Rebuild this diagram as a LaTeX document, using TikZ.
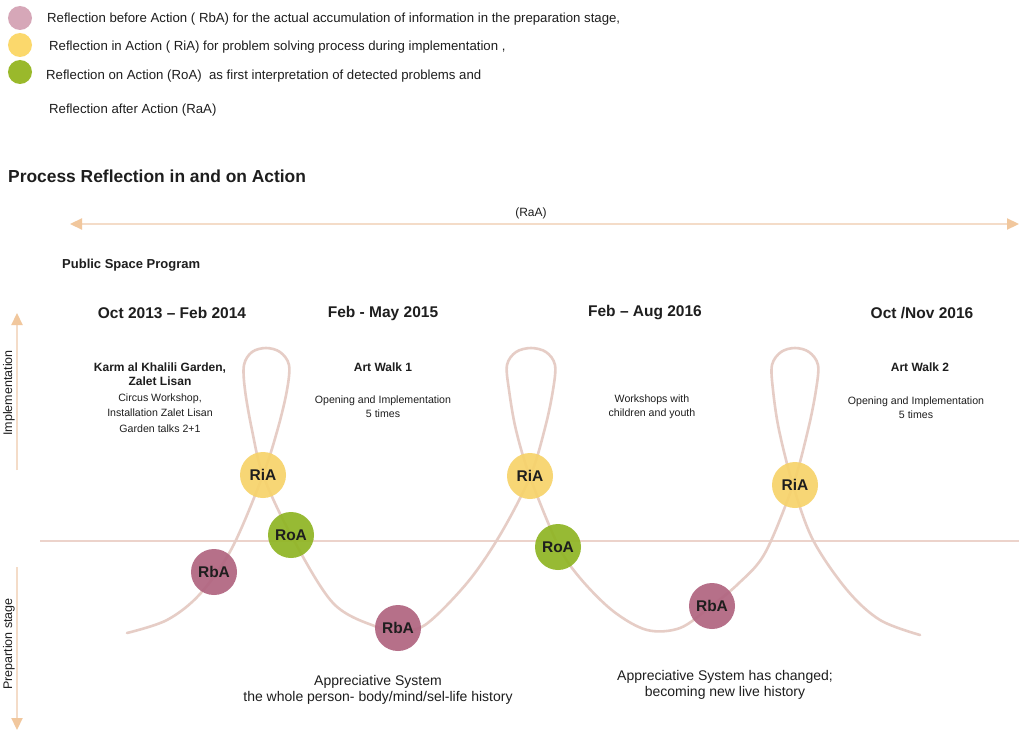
\documentclass[tikz,border=0pt]{standalone}
\usepackage{fontspec}
\setmainfont{Liberation Sans}
\usetikzlibrary{arrows.meta}

% colours
\definecolor{loopline}{HTML}{E6CDC6}
\definecolor{baseline}{HTML}{ECD3CB}
\definecolor{axisline}{HTML}{F4DCC8}
\definecolor{axistip}{HTML}{F1C79D}
\definecolor{rbafill}{HTML}{B06480}
\definecolor{riafill}{HTML}{F7D36A}
\definecolor{roafill}{HTML}{8FB523}
\definecolor{keypink}{HTML}{D6A7B8}
\definecolor{keyyellow}{HTML}{FBD86C}
\definecolor{keygreen}{HTML}{9AB92B}
\definecolor{ink}{HTML}{1E1E1E}

\newcommand{\fs}[2]{\fontsize{#1bp}{#2bp}\selectfont}

\tikzset{
  keydot/.style={circle, minimum size=24bp, inner sep=0pt},
  keytext/.style={anchor=west, inner sep=0pt, text=ink, font=\fs{13.2}{15}},
  refl/.style={circle, minimum size=46bp, inner sep=0pt, fill opacity=0.92, text opacity=1,
               font=\fs{15.5}{16}\bfseries, text=ink},
  rba/.style={refl, fill=rbafill},
  ria/.style={refl, fill=riafill},
  roa/.style={refl, fill=roafill},
  period/.style={font=\fs{15.5}{17}\bfseries, text=ink, inner sep=0pt},
  event/.style={font=\fs{12}{14}\bfseries, text=ink, inner sep=0pt, align=center},
  detail/.style={font=\fs{10.6}{14}, text=ink, inner sep=0pt, align=center},
  summary/.style={font=\fs{14}{16}, text=ink, inner sep=0pt, align=center},
  axis/.style={draw=axisline, line width=2.2bp},
  tip/.style={-{Triangle[length=12bp, width=11bp, color=axistip]}},
}

\begin{document}
\begin{tikzpicture}[x=1bp, y=-1bp]
\useasboundingbox[fill=white] (0,0) rectangle (1019,731);

% legend
\node[keydot, fill=keypink]   (k1) at (20,18) {};
\node[keydot, fill=keyyellow] (k2) at (20,45) {};
\node[keydot, fill=keygreen]  (k3) at (20,72) {};
\node[keytext] (t1) at (47,19)  {Reflection before Action ( RbA) for the actual accumulation of information in the preparation stage,};
\node[keytext] (t2) at (49,47)  {Reflection in Action ( RiA) for problem solving process during implementation ,};
\node[keytext] (t3) at (46,76)  {Reflection on Action (RoA)\ \ as first interpretation of detected problems and};
\node[keytext] (t4) at (49,110) {Reflection after Action (RaA)};

% title
\node[anchor=west, inner sep=0pt, font=\fs{17.4}{19}\bfseries, text=ink] (title) at (8,176) {Process Reflection in and on Action};

% reflection after action arrow
\coordinate (raaL) at (70,224);
\coordinate (raaR) at (1019,224);
\draw[axis, {Triangle[length=12bp, width=11bp, color=axistip]}-{Triangle[length=12bp, width=11bp, color=axistip]}] (raaL) -- (raaR);
\node[font=\fs{12}{13}, text=ink, inner sep=0pt] (raa) at (531,213) {(RaA)};

\node[anchor=west, inner sep=0pt, font=\fs{13}{14}\bfseries, text=ink] (psp) at (62,265) {Public Space Program};

% vertical stage axis
\coordinate (upA) at (17,470);
\coordinate (upB) at (17,313);
\coordinate (dnA) at (17,567);
\coordinate (dnB) at (17,730);
\draw[axis, tip] (upA) -- (upB);
\draw[axis, tip] (dnA) -- (dnB);
\node[rotate=90, font=\fs{12.5}{13}, text=ink, inner sep=0pt] (impl) at (9,393) {Implementation};
\node[rotate=90, font=\fs{12.5}{13}, text=ink, inner sep=0pt] (prep) at (9,644) {Prepartion stage};

% base line between preparation and implementation
\coordinate (bL) at (40,541);
\coordinate (bR) at (1019,541);
\draw[draw=baseline, line width=2.6bp] (bL) -- (bR);

% looping process curve
\draw[draw=loopline, line width=2.6bp, line cap=round] plot[smooth, tension=0.55] coordinates {
  (127,633) (167,620) (200,594) (232,548) (263,475) (278,428) (287,390) (289,365) (280,352)
  (266,348) (252,352) (244,365) (245,390) (252,430) (263,475) (291,535) (333,603) (377,627)
  (398,630) (425,625) (467,583) (500,535) (530,477) (545,428) (553,390) (555,365) (546,352)
  (531,348) (516,352) (507,365) (509,390) (516,430) (530,477) (558,545) (580,578) (613,611)
  (647,630) (680,628) (710,607) (738,584) (765,553) (793,485) (808,430) (816,390) (818,365)
  (809,352) (795,348) (781,352) (772,365) (773,390) (779,430) (793,485) (813,540) (847,590)
  (880,620) (920,635)};

% reflection markers
\node[rba] (rba1) at (214,572) {RbA};
\node[ria] (ria1) at (263,475) {RiA};
\node[roa] (roa1) at (291,535) {RoA};
\node[rba] (rba2) at (398,628) {RbA};
\node[ria] (ria2) at (530,476) {RiA};
\node[roa] (roa2) at (558,547) {RoA};
\node[rba] (rba3) at (712,606) {RbA};
\node[ria] (ria3) at (795,485) {RiA};

% periods
\node[period] (p1) at (172,313) {Oct 2013 – Feb 2014};
\node[period] (p2) at (383,313) {Feb - May 2015};
\node[period] (p3) at (645,313) {Feb – Aug 2016};
\node[period] (p4) at (922,313) {Oct /Nov 2016};

% events
\node[event] (e1) at (160,374) {Karm al Khalili Garden,\\Zalet Lisan};
\node[detail] (d1) at (160,399) {Circus Workshop,};
\node[detail] (d1b) at (160,413) {Installation Zalet Lisan};
\node[detail] (d1c) at (160,429) {Garden talks 2+1};
\node[event] (e2) at (383,367) {Art Walk 1};
\node[detail] (d2) at (383,407) {Opening and Implementation\\5 times};
\node[detail] (d3) at (652,407) {Workshops with\\children and youth};
\node[event] (e4) at (920,367) {Art Walk 2};
\node[detail] (d4) at (916,408) {Opening and Implementation\\5 times};

% appreciative system notes
\node[summary] (s1) at (378,690) {Appreciative System\\the whole person- body/mind/sel-life history};
\node[summary] (s2) at (725,685) {Appreciative System has changed;\\becoming new live history};
\end{tikzpicture}
\end{document}
